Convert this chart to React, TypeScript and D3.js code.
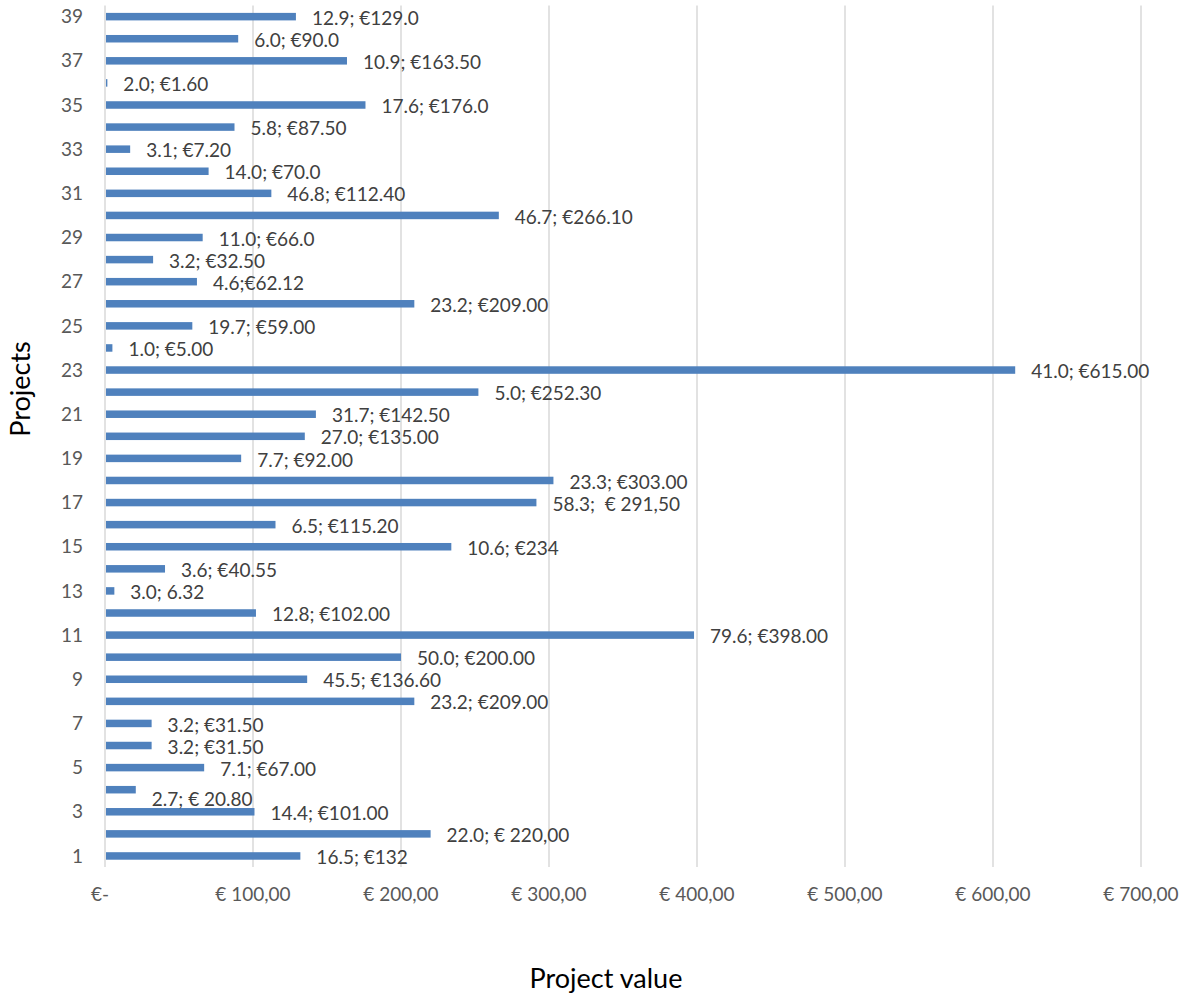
import { useRef, useEffect } from "react";
import * as d3 from "d3";

// project number, bar value (€) and the data label shown beside the bar
const projects = d3.range(1, 40);

const values = [
  132, 220, 101, 20.8, 67, 31.5, 31.5, 209, 136.6, 200,
  398, 102, 6.32, 40.55, 234, 115.2, 291.5, 303, 92, 135,
  142.5, 252.3, 615, 5, 59, 209, 62.12, 32.5, 66, 266.1,
  112.4, 70, 17, 87.5, 176, 1.6, 163.5, 90, 129,
];

const labels = [
  "16.5; €132", "22.0; € 220,00", "14.4; €101.00", "2.7; € 20.80", "7.1; €67.00",
  "3.2; €31.50", "3.2; €31.50", "23.2; €209.00", "45.5; €136.60", "50.0; €200.00",
  "79.6; €398.00", "12.8; €102.00", "3.0; 6.32", "3.6; €40.55", "10.6; €234",
  "6.5; €115.20", "58.3;  € 291,50", "23.3; €303.00", "7.7; €92.00", "27.0; €135.00",
  "31.7; €142.50", "5.0; €252.30", "41.0; €615.00", "1.0; €5.00", "19.7; €59.00",
  "23.2; €209.00", "4.6;€62.12", "3.2; €32.50", "11.0; €66.0", "46.7; €266.10",
  "46.8; €112.40", "14.0; €70.0", "3.1; €7.20", "5.8; €87.50", "17.6; €176.0",
  "2.0; €1.60", "10.9; €163.50", "6.0; €90.0", "12.9; €129.0",
];

const xTicks = [0, 100, 200, 300, 400, 500, 600, 700];
const yTicks = projects.filter((p) => p % 2 === 1);

// label 4 was dragged down a little in the original
const labelNudge: Record<number, number> = { 4: 8 };

const W = 1190;
const H = 996;
const FONT = "Lato, 'Open Sans', sans-serif";

export default function App() {
  const svgRef = useRef<SVGSVGElement>(null);

  useEffect(() => {
    if (!svgRef.current) return;
    const svg = d3.select(svgRef.current);
    svg.selectAll("*").remove();

    const x = d3.scaleLinear().domain([0, 700]).range([105, 1141]);
    const y = d3
      .scaleBand<number>()
      .domain(projects)
      .range([867, 5.6])
      .paddingInner(0.66)
      .paddingOuter(0.33);

    // gridlines
    svg
      .append("g")
      .selectAll("line")
      .data(xTicks)
      .enter()
      .append("line")
      .attr("x1", (d) => x(d))
      .attr("x2", (d) => x(d))
      .attr("y1", 5.6)
      .attr("y2", 867)
      .attr("stroke", "#d9d9d9")
      .attr("stroke-width", 1.5);

    // bars
    svg
      .append("g")
      .selectAll("rect")
      .data(projects)
      .enter()
      .append("rect")
      .attr("x", x(0) + 1)
      .attr("y", (d) => y(d)!)
      .attr("width", (d, i) => Math.max(1, x(values[i]) - x(0) - 1))
      .attr("height", y.bandwidth())
      .attr("fill", "#4f81bd");

    // data labels
    svg
      .append("g")
      .selectAll("text")
      .data(projects)
      .enter()
      .append("text")
      .attr("x", (d, i) => x(values[i]) + 16)
      .attr("y", (d) => y(d)! + y.bandwidth() / 2 + 1.5 + (labelNudge[d] || 0))
      .attr("dy", "0.35em")
      .attr("fill", "#404040")
      .attr("font-family", FONT)
      .attr("font-size", 19)
      .style("white-space", "pre")
      .text((d, i) => labels[i]);

    // y tick labels
    svg
      .append("g")
      .selectAll("text")
      .data(yTicks)
      .enter()
      .append("text")
      .attr("x", 83)
      .attr("y", (d) => y(d)! + y.bandwidth() / 2)
      .attr("dy", "0.35em")
      .attr("text-anchor", "end")
      .attr("fill", "#595959")
      .attr("font-family", FONT)
      .attr("font-size", 19)
      .text((d) => d);

    // x tick labels
    const fmt = (d: number) => (d === 0 ? "€-" : `€ ${d3.format(".2f")(d).replace(".", ",")}`);
    svg
      .append("g")
      .selectAll("text")
      .data(xTicks)
      .enter()
      .append("text")
      .attr("x", (d) => x(d) - (d === 0 ? 5 : 0))
      .attr("y", 894)
      .attr("dy", "0.35em")
      .attr("text-anchor", "middle")
      .attr("fill", "#595959")
      .attr("font-family", FONT)
      .attr("font-size", 19)
      .text(fmt);

    // axis titles
    svg
      .append("text")
      .attr("transform", "translate(21,389) rotate(-90)")
      .attr("dy", "0.35em")
      .attr("text-anchor", "middle")
      .attr("fill", "#000")
      .attr("font-family", FONT)
      .attr("font-size", 27)
      .text("Projects");

    svg
      .append("text")
      .attr("x", 606)
      .attr("y", 979)
      .attr("dy", "0.35em")
      .attr("text-anchor", "middle")
      .attr("fill", "#000")
      .attr("font-family", FONT)
      .attr("font-size", 27)
      .text("Project value");
  }, []);

  return (
    <svg
      ref={svgRef}
      width={W}
      height={H}
      style={{ position: "absolute", left: 0, top: 0, background: "#fff" }}
    />
  );
}
